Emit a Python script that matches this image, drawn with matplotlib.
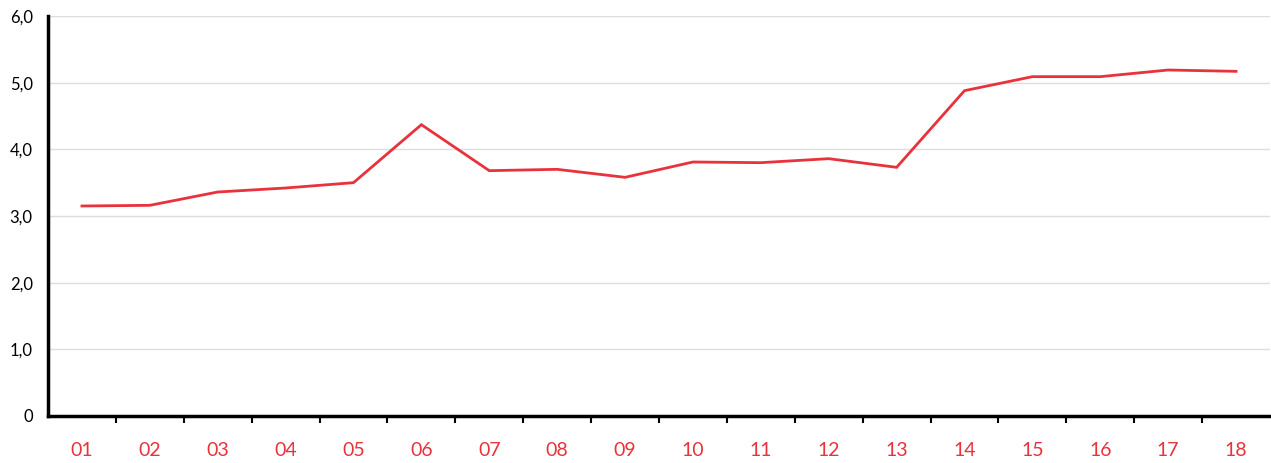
import matplotlib
matplotlib.use("Agg")
import matplotlib.pyplot as plt
from matplotlib.ticker import FixedLocator, FuncFormatter

categories = ["01", "02", "03", "04", "05", "06", "07", "08", "09",
              "10", "11", "12", "13", "14", "15", "16", "17", "18"]
values = [3.15, 3.16, 3.36, 3.42, 3.50, 4.37, 3.68, 3.70, 3.58,
          3.81, 3.80, 3.86, 3.73, 4.88, 5.09, 5.09, 5.19, 5.17]
y_ticks = [0, 1, 2, 3, 4, 5, 6]

RED = "#e8323c"
plt.rcParams['font.family'] = ['Lato', 'DejaVu Sans']

W, H = 1271, 463
fig = plt.figure(figsize=(W / 100, H / 100), dpi=100)
ax = fig.add_axes([48 / W, (H - 416) / H, (1270 - 48) / W, (416 - 16) / H])

x = list(range(len(categories)))
ax.plot(x, values, color=RED, lw=2.0, solid_joinstyle='miter', zorder=3)

ax.set_xlim(-0.5, len(categories) - 0.5)
ax.set_ylim(0, 6)

ax.set_xticks(x)
ax.set_xticklabels(categories)
ax.tick_params(axis='x', which='major', length=0, pad=18.5, labelsize=14, labelcolor=RED)
ax.xaxis.set_minor_locator(FixedLocator([i + 0.5 for i in range(len(categories) - 1)]))
ax.tick_params(axis='x', which='minor', length=5, width=1.5, color='black', direction='out')

ax.set_yticks(y_ticks)
ax.yaxis.set_major_formatter(FuncFormatter(lambda v, p: "0" if v == 0 else f"{v:.1f}".replace(".", ",")))
ax.tick_params(axis='y', length=0, pad=11, labelsize=12, labelcolor='black')

ax.grid(axis='y', color='#dddddd', lw=1.0, zorder=0)
ax.set_axisbelow(True)

for s in ['top', 'right']:
    ax.spines[s].set_visible(False)
ax.spines['left'].set_linewidth(2.5)
ax.spines['bottom'].set_linewidth(2.5)
ax.spines['left'].set_color('black')
ax.spines['bottom'].set_color('black')

fig.savefig("out.png", dpi=100)
